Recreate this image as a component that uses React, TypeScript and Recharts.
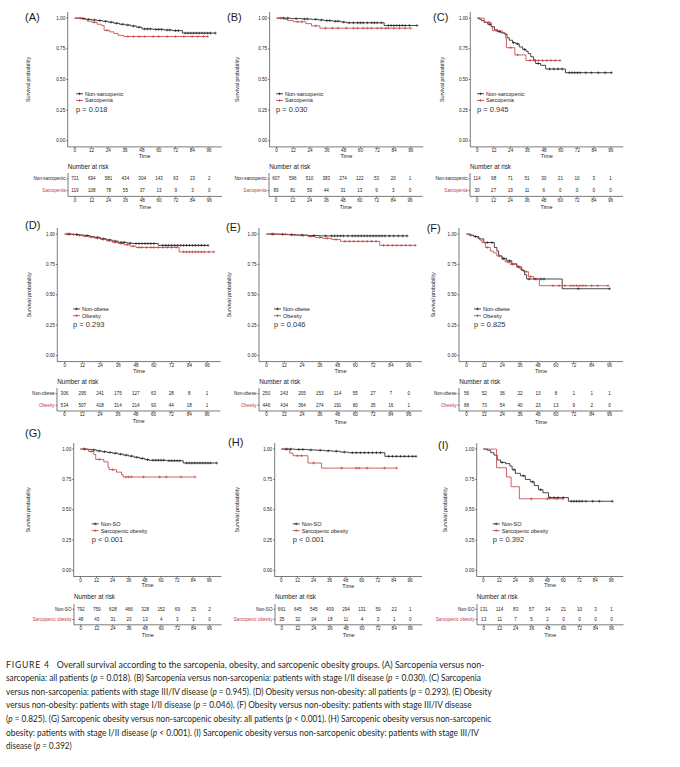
import React, { useLayoutEffect, useRef, useState } from 'react';
import { LineChart, Line, XAxis, YAxis, ScatterChart, Scatter } from 'recharts';

const TIME_TICKS = [0, 12, 24, 36, 48, 60, 72, 84, 96];
const SURV_TICKS = [0, 0.25, 0.5, 0.75, 1];
const RISK_ROWS = [1, 2];

const SARC_GROUPS = ['Non-sarcopenic', 'Sarcopenia'];
const OBESE_GROUPS = ['Non-obese', 'Obesity'];
const SO_GROUPS = ['Non-SO', 'Sarcopenic obesity'];

// survival steps [time, survival] and censor times
const aNonSarc = [[0, 1], [4, 0.996], [8, 0.99], [12, 0.985], [16, 0.98], [20, 0.974], [24, 0.967], [28, 0.958], [32, 0.95], [36, 0.944], [40, 0.936], [44, 0.926], [48, 0.912], [56, 0.908], [64, 0.903], [70, 0.898], [77, 0.878]];
const aNonSarcCens = [6, 10, 14, 18, 22, 26, 30, 34, 38, 42, 46, 50, 52, 54, 58, 60, 62, 66, 68, 72, 74, 79, 81, 83, 85, 87, 89, 91, 93, 95, 97, 100.5];
const aSarc = [[0, 1], [7, 0.99], [9, 0.975], [12, 0.966], [16, 0.95], [19, 0.94], [21, 0.9], [25, 0.888], [28, 0.875], [31, 0.86], [35, 0.85]];
const aSarcCens = [4, 14, 23, 38, 42, 46, 50, 56, 60, 66, 72, 78, 84, 88, 92, 95];

const bNonSarc = [[0, 1], [10, 0.996], [18, 0.993], [25, 0.99], [30, 0.985], [34, 0.98], [40, 0.975], [46, 0.968], [50, 0.962], [77, 0.94]];
const bNonSarcCens = [5, 8, 14, 20, 22, 28, 32, 36, 38, 42, 44, 48, 52, 55, 58, 60, 62, 65, 68, 70, 72, 75, 80, 82, 84, 86, 88, 90, 92, 95, 100.5];
const bSarc = [[0, 1], [6, 0.99], [8, 0.98], [12, 0.97], [21, 0.955], [25, 0.937], [31, 0.918]];
const bSarcCens = [3, 15, 18, 28, 35, 40, 44, 50, 55, 58, 62, 65, 68, 72, 75, 78, 80, 84, 88, 92, 96];

const cNonSarc = [[0, 1], [1.7, 0.99], [3, 0.98], [5, 0.965], [7.5, 0.95], [10, 0.93], [12.4, 0.905], [14.7, 0.89], [17, 0.88], [19.5, 0.87], [21.4, 0.84], [23, 0.82], [25.4, 0.8], [27.8, 0.79], [30.2, 0.765], [32.6, 0.745], [35, 0.73], [36.6, 0.71], [38.5, 0.685], [40.4, 0.66], [42, 0.63], [45.6, 0.615], [49.2, 0.585], [63.4, 0.555]];
const cNonSarcCens = [9, 16, 26, 29, 34, 44, 52, 55, 58, 61, 66, 68, 70, 72, 74, 78, 82, 87, 92, 96.5];
const cSarc = [[0, 1], [5, 0.966], [10, 0.931], [11, 0.897], [18, 0.878], [20.5, 0.83], [21, 0.759], [27, 0.7], [35, 0.655]];
const cSarcCens = [8, 14, 24, 29, 38, 41, 44, 47, 50, 53, 56, 59.5];

const dNonObese = [[0, 1], [6, 0.997], [10, 0.993], [13, 0.988], [17, 0.98], [20, 0.973], [24, 0.962], [28, 0.952], [32, 0.942], [36, 0.932], [42, 0.925], [46, 0.922], [63, 0.907]];
const dNonObeseCens = [3, 8, 15, 22, 26, 30, 34, 38, 40, 44, 48, 50, 52, 54, 56, 58, 60, 66, 68, 70, 72, 74, 76, 78, 80, 82, 84, 86, 88, 90, 92, 94, 96.5];
const dObesity = [[0, 1], [4, 0.996], [8, 0.99], [12, 0.982], [16, 0.975], [20, 0.966], [24, 0.957], [28, 0.945], [32, 0.932], [36, 0.922], [40, 0.912], [44, 0.9], [48, 0.89], [77, 0.853]];
const dObesityCens = [2, 6, 10, 14, 18, 22, 26, 30, 34, 38, 42, 46, 50, 52, 55, 58, 60, 63, 66, 69, 72, 75, 80, 82, 84, 86, 88, 90, 92, 94, 97, 100.4];

const eNonObese = [[0, 1], [8, 0.998], [14, 0.995], [20, 0.992], [28, 0.988], [36, 0.985]];
const eNonObeseCens = [4, 11, 17, 24, 32, 40, 44, 46, 48, 50, 52, 55, 58, 60, 62, 64, 66, 68, 70, 72, 74, 76, 78, 80, 83, 86, 89, 92, 95];
const eObesity = [[0, 1], [10, 0.997], [16, 0.993], [22, 0.988], [28, 0.98], [33, 0.972], [38, 0.965], [44, 0.955], [50, 0.94], [76.5, 0.907]];
const eObesityCens = [5, 13, 19, 25, 30, 36, 41, 47, 53, 56, 59, 62, 65, 68, 71, 74, 79, 82, 85, 88, 91, 94, 97, 100.5];

const fNonObese = [[0, 1], [2.7, 0.99], [4.9, 0.98], [8.2, 0.96], [11.6, 0.93], [18.7, 0.89], [20.4, 0.86], [21.6, 0.82], [23.8, 0.8], [27, 0.78], [30.4, 0.755], [33.8, 0.73], [37, 0.7], [39, 0.665], [40.4, 0.63], [64.2, 0.55]];
const fNonObeseCens = [6, 14, 17, 25, 29, 35, 42, 46, 50, 52, 75, 96];
const fObesity = [[0, 1], [2, 0.99], [5, 0.98], [7, 0.97], [9, 0.95], [10.4, 0.93], [12.7, 0.89], [16, 0.86], [18, 0.845], [20.4, 0.82], [23.8, 0.79], [26, 0.77], [29.3, 0.75], [33.8, 0.73], [36, 0.71], [38.2, 0.69], [41.6, 0.65], [45, 0.63], [48.9, 0.575]];
const fObesityCens = [3, 14, 22, 28, 31, 35, 40, 43, 47, 58, 62, 66, 70, 72, 74, 76, 78, 80, 84, 88, 95];

const gNonSO = [[0, 1], [5, 0.997], [8, 0.993], [12, 0.985], [16, 0.978], [20, 0.972], [24, 0.966], [28, 0.958], [32, 0.95], [36, 0.942], [40, 0.932], [44, 0.923], [48, 0.913], [51, 0.908], [64, 0.904], [76.6, 0.885]];
const gNonSOCens = [3, 10, 14, 18, 22, 26, 30, 34, 38, 42, 46, 50, 54, 56, 58, 60, 62, 66, 68, 70, 72, 74, 79, 81, 83, 85, 87, 89, 91, 93, 95, 97, 101.5];
const gSO = [[0, 1], [6, 0.98], [10, 0.955], [11.4, 0.915], [17.4, 0.895], [20.6, 0.85], [21.4, 0.83], [26.9, 0.81], [30.6, 0.79], [31.8, 0.77]];
const gSOCens = [3, 8, 14, 24, 34, 36, 38, 47, 59, 64, 75, 85.3];

const hNonSO = [[0, 1], [10, 0.997], [20, 0.993], [26, 0.99], [32, 0.986], [38, 0.982], [44, 0.975], [50, 0.97], [77.3, 0.94]];
const hNonSOCens = [4, 7, 13, 16, 22, 29, 35, 41, 47, 53, 56, 59, 62, 65, 68, 71, 74, 80, 83, 86, 89, 92, 95, 98, 100.5];
const hSO = [[0, 1], [6.2, 0.967], [8.7, 0.945], [19.8, 0.885], [30, 0.843]];
const hSOCens = [3, 12, 15, 24, 45, 56, 58, 64, 77, 86];

const iNonSO = [[0, 1], [3, 0.99], [5.5, 0.97], [8, 0.95], [10.4, 0.91], [12.9, 0.89], [16.6, 0.88], [19.9, 0.86], [21.6, 0.83], [24, 0.8], [27.8, 0.78], [31.5, 0.75], [35.2, 0.73], [38.2, 0.7], [41.4, 0.665], [44.7, 0.64], [48.9, 0.6], [63.8, 0.57]];
const iNonSOCens = [14, 23, 30, 37, 43, 50, 53, 56, 60, 66, 68, 70, 72, 74, 77, 82, 87, 96.8];
const iSO = [[0, 1], [9.9, 0.846], [17.4, 0.77], [20.8, 0.69], [27, 0.59]];
const iSOCens = [36, 48, 55, 59.6];

// number at risk at 0, 12, ..., 96 months
const aRiskNon = [721, 694, 581, 434, 304, 143, 63, 23, 2];
const aRiskSarc = [119, 108, 78, 55, 37, 13, 9, 3, 0];
const bRiskNon = [607, 596, 510, 383, 274, 122, 53, 20, 1];
const bRiskSarc = [89, 81, 59, 44, 31, 13, 9, 3, 0];
const cRiskNon = [114, 98, 71, 51, 30, 21, 10, 3, 1];
const cRiskSarc = [30, 27, 19, 11, 6, 0, 0, 0, 0];
const dRiskNon = [306, 295, 241, 175, 127, 63, 28, 8, 1];
const dRiskObese = [534, 507, 418, 314, 214, 93, 44, 18, 1];
const eRiskNon = [250, 243, 205, 153, 114, 55, 27, 7, 0];
const eRiskObese = [446, 434, 364, 274, 191, 80, 35, 16, 1];
const fRiskNon = [56, 52, 36, 22, 13, 8, 1, 1, 1];
const fRiskObese = [88, 73, 54, 40, 23, 13, 9, 2, 0];
const gRiskNon = [792, 759, 628, 466, 328, 152, 69, 25, 2];
const gRiskSO = [48, 43, 31, 23, 13, 4, 3, 1, 0];
const hRiskNon = [661, 645, 545, 409, 294, 131, 59, 22, 1];
const hRiskSO = [35, 32, 24, 18, 11, 4, 3, 1, 0];
const iRiskNon = [131, 114, 83, 57, 34, 21, 10, 3, 1];
const iRiskSO = [13, 11, 7, 5, 2, 0, 0, 0, 0];

const CAPTION_LINES = [
  'Overall survival according to the sarcopenia, obesity, and sarcopenic obesity groups. (A) Sarcopenia versus non-',
  'sarcopenia: all patients (*p* = 0.018). (B) Sarcopenia versus non-sarcopenia: patients with stage I/II disease (*p* = 0.030). (C) Sarcopenia',
  'versus non-sarcopenia: patients with stage III/IV disease (*p* = 0.945). (D) Obesity versus non-obesity: all patients (*p* = 0.293). (E) Obesity',
  'versus non-obesity: patients with stage I/II disease (*p* = 0.046). (F) Obesity versus non-obesity: patients with stage III/IV disease',
  '(*p* = 0.825). (G) Sarcopenic obesity versus non-sarcopenic obesity: all patients (*p* < 0.001). (H) Sarcopenic obesity versus non-sarcopenic',
  'obesity: patients with stage I/II disease (*p* < 0.001). (I) Sarcopenic obesity versus non-sarcopenic obesity: patients with stage III/IV',
  'disease (*p* = 0.392)',
];
const CAPTION_ENDS = [485, 482, 492.7, 472.7, 492.7, 480, 71.7];

const BLACK = '#1b1b1b';
const RED = '#c23d3d';
const AXIS = '#222';
const FONT = '"Liberation Sans", Arial, sans-serif';
const CAP_FONT = 'Lato, "Open Sans", sans-serif';

const ROWS = [
  { plotTop: 12.2, plotH: 134.9, tableTop: 173.2, tableH: 23.4, nar: 166 },
  { plotTop: 228.2, plotH: 133.6, tableTop: 388, tableH: 23, nar: 381 },
  { plotTop: 443.2, plotH: 133.5, tableTop: 604.2, tableH: 20.8, nar: 596 },
];

const PANELS = [
  { id: 'A', row: 0, left: 67.7, width: 154, yTitle: 28, legend: 76, tag: [25, 17], groups: SARC_GROUPS, curves: [[aNonSarc, aNonSarcCens], [aSarc, aSarcCens]], risk: [aRiskNon, aRiskSarc], p: 'p = 0.018' },
  { id: 'B', row: 0, left: 269.3, width: 153.7, yTitle: 236.7, legend: 276, tag: [227, 17], groups: SARC_GROUPS, curves: [[bNonSarc, bNonSarcCens], [bSarc, bSarcCens]], risk: [bRiskNon, bRiskSarc], p: 'p = 0.030' },
  { id: 'C', row: 0, left: 470, width: 153, yTitle: 441.7, legend: 477, tag: [433, 17], groups: SARC_GROUPS, curves: [[cNonSarc, cNonSarcCens], [cSarc, cSarcCens]], risk: [cRiskNon, cRiskSarc], p: 'p = 0.945' },
  { id: 'D', row: 1, left: 57.3, width: 163.4, yTitle: 29, legend: 73, tag: [25, 225], groups: OBESE_GROUPS, curves: [[dNonObese, dNonObeseCens], [dObesity, dObesityCens]], risk: [dRiskNon, dRiskObese], p: 'p = 0.293' },
  { id: 'E', row: 1, left: 259.3, width: 163, yTitle: 229.3, legend: 274, tag: [226, 226.7], groups: OBESE_GROUPS, curves: [[eNonObese, eNonObeseCens], [eObesity, eObesityCens]], risk: [eRiskNon, eRiskObese], p: 'p = 0.046' },
  { id: 'F', row: 1, left: 459.3, width: 164, yTitle: 433.3, legend: 474, tag: [426.7, 227.7], groups: OBESE_GROUPS, curves: [[fNonObese, fNonObeseCens], [fObesity, fObesityCens]], risk: [fRiskNon, fRiskObese], p: 'p = 0.825' },
  { id: 'G', row: 2, left: 74, width: 147.7, yTitle: 28.3, legend: 91.7, tag: [25, 433], groups: SO_GROUPS, curves: [[gNonSO, gNonSOCens], [gSO, gSOCens]], risk: [gRiskNon, gRiskSO], p: 'p < 0.001' },
  { id: 'H', row: 2, left: 275, width: 147.3, yTitle: 237.3, legend: 292.7, tag: [228, 441.7], groups: SO_GROUPS, curves: [[hNonSO, hNonSOCens], [hSO, hSOCens]], risk: [hRiskNon, hRiskSO], p: 'p < 0.001' },
  { id: 'I', row: 2, left: 476.7, width: 146.6, yTitle: 445, legend: 492.7, tag: [438, 445], groups: SO_GROUPS, curves: [[iNonSO, iNonSOCens], [iSO, iSOCens]], risk: [iRiskNon, iRiskSO], p: 'p = 0.392' },
];

// KM points plus censor marks sitting on the current step
const buildCurve = (events: number[][], censors: number[]) => {
  const pts = events.map(([t, s]) => ({ t, s, c: 0 }));
  censors.forEach((ct) => {
    const level = [...events].reverse().find(([t]) => t <= ct)!;
    pts.push({ t: ct, s: level[1], c: 1 });
  });
  return pts.sort((a, b) => a.t - b.t);
};

const tickStyle = { fontSize: 4.6, fill: AXIS, fontFamily: FONT };

const censorDot = (p: any) => {
  const key = `d${p.index}`;
  if (!p.payload || !p.payload.c || p.cx == null) return <g key={key} />;
  return <path key={key} d={`M${p.cx - 1.4},${p.cy}h2.8M${p.cx},${p.cy - 1.4}v2.8`} stroke={p.stroke} strokeWidth={0.6} fill="none" />;
};

const timeLabel = (dy: number) => (props: any) => {
  const vb = props.viewBox || {};
  return (
    <text x={vb.x + vb.width / 2} y={vb.y + dy} textAnchor="middle" dominantBaseline="central" fontSize={5.5} fill={AXIS} fontFamily={FONT}>
      Time
    </text>
  );
};

const survLabel = (props: any) => {
  const vb = props.viewBox || {};
  const x = vb.x + 5;
  const y = vb.y + vb.height / 2;
  return (
    <text x={x} y={y} transform={`rotate(-90 ${x} ${y})`} textAnchor="middle" dominantBaseline="central" fontSize={5.4} fill={AXIS} fontFamily={FONT}>
      Survival probability
    </text>
  );
};

function SurvPlot({ cfg }: { cfg: any }) {
  const row = ROWS[cfg.row];
  const chartLeft = cfg.yTitle - 5;
  const yAxisW = cfg.left - chartLeft;
  return (
    <div style={{ position: 'absolute', left: chartLeft, top: row.plotTop - 4 }}>
      <LineChart width={yAxisW + cfg.width + 4} height={row.plotH + 26} margin={{ top: 4, right: 4, bottom: 0, left: 0 }}>
        <XAxis type="number" dataKey="t" domain={[-5, 105]} ticks={TIME_TICKS} interval={0} allowDataOverflow height={22} tickSize={1.5} tickMargin={0.5} tick={tickStyle} stroke={AXIS} strokeWidth={0.6} label={timeLabel(9)} />
        <YAxis type="number" domain={[-0.05, 1.05]} ticks={SURV_TICKS} interval={0} allowDataOverflow width={yAxisW} tickSize={1.5} tickMargin={1} tick={tickStyle} tickFormatter={(v: number) => v.toFixed(2)} stroke={AXIS} strokeWidth={0.6} label={survLabel} />
        {cfg.curves.map(([ev, cens]: any, i: number) => (
          <Line key={i} data={buildCurve(ev, cens)} dataKey="s" type="stepAfter" stroke={i ? RED : BLACK} strokeWidth={0.8} dot={censorDot} activeDot={false} isAnimationActive={false} />
        ))}
      </LineChart>
    </div>
  );
}

function RiskTable({ cfg }: { cfg: any }) {
  const row = ROWS[cfg.row];
  const yAxisW = 50;
  const series = cfg.risk.map((counts: number[], gi: number) => TIME_TICKS.map((t, k) => ({ t, r: 2 - gi, n: counts[k] })));
  const groupTick = (p: any) => {
    const gi = 2 - p.payload.value;
    return (
      <text key={`g${gi}`} x={p.x} y={p.y} textAnchor="end" dominantBaseline="central" fontSize={4.6} fill={gi ? RED : BLACK} fontFamily={FONT}>
        {cfg.groups[gi]}
      </text>
    );
  };
  const countShape = (p: any) => (
    <text x={p.cx} y={p.cy} textAnchor="middle" dominantBaseline="central" fontSize={4.6} fill={AXIS} fontFamily={FONT}>
      {p.payload.n}
    </text>
  );
  return (
    <div style={{ position: 'absolute', left: cfg.left - yAxisW, top: row.tableTop - 2 }}>
      <ScatterChart width={yAxisW + cfg.width + 4} height={row.tableH + 20} margin={{ top: 2, right: 4, bottom: 0, left: 0 }}>
        <XAxis type="number" dataKey="t" domain={[-5, 105]} ticks={TIME_TICKS} interval={0} allowDataOverflow height={18} tickSize={1.5} tickMargin={0.5} tick={tickStyle} stroke={AXIS} strokeWidth={0.6} label={timeLabel(10.5)} />
        <YAxis type="number" dataKey="r" domain={[0.5, 2.5]} ticks={RISK_ROWS} interval={0} width={yAxisW} tickSize={1.5} tickMargin={1} tick={groupTick} stroke={AXIS} strokeWidth={0.6} />
        {series.map((d: any, gi: number) => (
          <Scatter key={gi} data={d} shape={countShape} isAnimationActive={false} />
        ))}
      </ScatterChart>
    </div>
  );
}

function Caption() {
  const refs = useRef<(SVGTextElement | null)[]>([]);
  const headRef = useRef<SVGTextElement | null>(null);
  const [scales, setScales] = useState<number[]>(CAPTION_LINES.map(() => 1));
  const [headScale, setHeadScale] = useState(1);
  const starts = CAPTION_LINES.map((_, i) => (i === 0 ? 56.7 : 6));

  useLayoutEffect(() => {
    setScales(CAPTION_LINES.map((_, i) => {
      const el = refs.current[i];
      const w = el ? el.getComputedTextLength() : 0;
      return w > 0 ? (CAPTION_ENDS[i] - starts[i]) / w : 1;
    }));
    const hw = headRef.current ? headRef.current.getComputedTextLength() : 0;
    if (hw > 0) setHeadScale(44 / hw);
  }, []);

  return (
    <g fontFamily={CAP_FONT} fontSize={9.5} fill="#231f20">
      <text ref={headRef} transform={`translate(6 667.5) scale(${headScale} 1)`} letterSpacing={0.9}>FIGURE 4</text>
      {CAPTION_LINES.map((line, i) => (
        <text key={i} ref={(el) => { refs.current[i] = el; }} transform={`translate(${starts[i]} ${667.5 + i * 13.6}) scale(${scales[i]} 1)`}>
          {line.split('*').map((part, k) => (
            <tspan key={k} fontStyle={k % 2 ? 'italic' : 'normal'}>{part}</tspan>
          ))}
        </text>
      ))}
    </g>
  );
}

function Overlay() {
  return (
    <svg width={680} height={767} style={{ position: 'absolute', left: 0, top: 0, pointerEvents: 'none' }}>
      {PANELS.map((cfg) => {
        const row = ROWS[cfg.row];
        const y1 = row.plotTop + 0.6045 * row.plotH;
        const lx = cfg.legend;
        return (
          <g key={cfg.id} fontFamily={FONT}>
            <text x={cfg.tag[0]} y={cfg.tag[1]} dominantBaseline="central" fontSize={11} fill={BLACK}>({cfg.id})</text>
            {cfg.groups.map((g, gi) => {
              const y = y1 + gi * 6.7;
              const col = gi ? RED : BLACK;
              return (
                <g key={g}>
                  <line x1={lx} x2={lx + 7} y1={y} y2={y} stroke={col} strokeWidth={0.8} />
                  <path d={`M${lx + 2.1},${y}h2.8M${lx + 3.5},${y - 1.4}v2.8`} stroke={col} strokeWidth={0.6} />
                  <text x={lx + 9} y={y} dominantBaseline="central" fontSize={5.5} fill={AXIS}>{g}</text>
                </g>
              );
            })}
            <text x={lx} y={y1 + 16} dominantBaseline="central" fontSize={7.5} fill="#333">{cfg.p}</text>
            <text x={cfg.left} y={row.nar} dominantBaseline="central" fontSize={6.3} fill={AXIS}>Number at risk</text>
          </g>
        );
      })}
      <Caption />
    </svg>
  );
}

export default function App() {
  return (
    <div style={{ position: 'absolute', left: 0, top: 0, width: 680, height: 767, background: '#fff', overflow: 'hidden' }}>
      {PANELS.map((cfg) => (
        <React.Fragment key={cfg.id}>
          <SurvPlot cfg={cfg} />
          <RiskTable cfg={cfg} />
        </React.Fragment>
      ))}
      <Overlay />
    </div>
  );
}
